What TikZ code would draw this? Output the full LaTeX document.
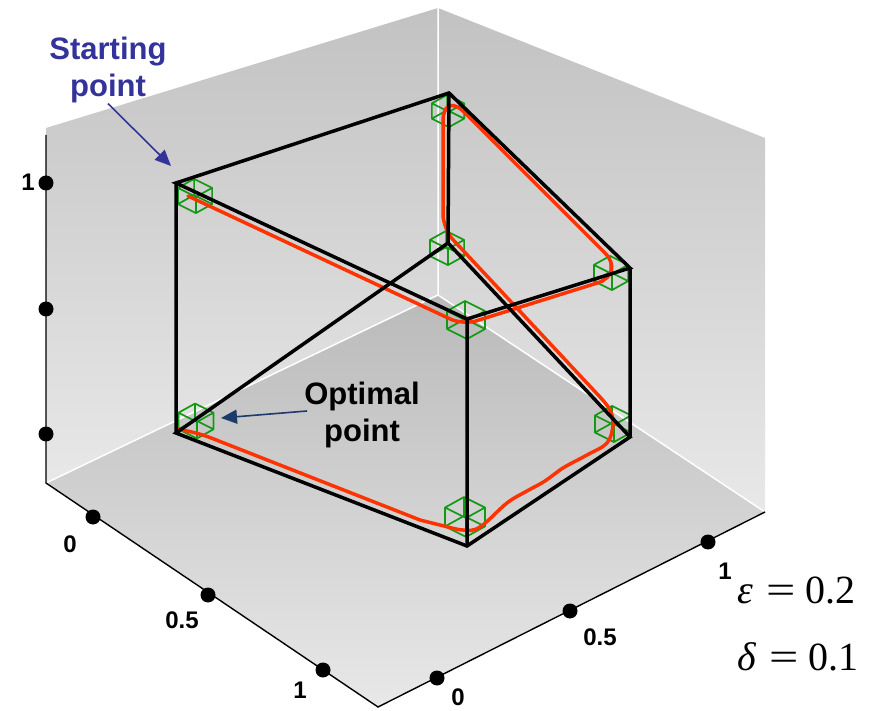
\documentclass[tikz,border=0pt]{standalone}
\usepackage{graphicx}
\usepackage{fontspec}
\setmainfont{Liberation Sans}
\newfontfamily\tmsfont{Liberation Serif}
\usetikzlibrary{arrows.meta}
\definecolor{wallT}{HTML}{C2C2C2}
\definecolor{wallB}{HTML}{E8E8E8}
\definecolor{floorT}{HTML}{BABABA}
\definecolor{floorB}{HTML}{E8E8E8}
\definecolor{redp}{HTML}{FF3300}
\definecolor{gmk}{HTML}{139913}
\definecolor{startc}{HTML}{333399}
\definecolor{optc}{HTML}{1B3B6B}
\tikzset{
 cubeedge/.style={line width=3.5pt, draw=black, line join=miter},
 redpath/.style={line width=3.5pt, draw=redp, line cap=round, line join=round},
 gmark/.style={line width=1.7pt, draw=gmk, line join=round},
 axisline/.style={line width=1.4pt, draw=black},
 wline/.style={line width=1.5pt, draw=white},
 tickdot/.style={circle, fill=black, inner sep=0pt, minimum size=15pt},
 ticklab/.style={font=\fontsize{24}{28}\selectfont\bfseries, inner sep=0pt},
 calllab/.style={font=\fontsize{31}{37}\selectfont\bfseries, inner sep=0pt, anchor=base},
 callarrow/.style={line width=1.6pt, -{Triangle[length=16pt,width=14pt]}},
 mathlab/.style={font=\tmsfont\fontsize{40}{48}\selectfont, inner sep=0pt, anchor=base west},
}
\newcommand{\wideeq}{\scalebox{1.3}[1.0]{=}}
\newcommand{\greencube}[3]{%
 \begin{scope}[shift={(#1,#2)}, scale=#3]
  \draw[gmark] (-19,-9) -- (-1,-19) -- (19,-9) -- (1,1) -- cycle
        (-19,9) -- (-1,-1) -- (19,9) -- (1,19) -- cycle
        (-19,-9) -- (-19,9) (-1,-19) -- (-1,-1) (19,-9) -- (19,9) (1,1) -- (1,19);
 \end{scope}}
\begin{document}
\begin{tikzpicture}[x=1pt,y=-1pt]
\useasboundingbox (0,0) rectangle (871,711);
% walls and floor
\shade[top color=wallT, bottom color=wallB] (46,128) -- (438,8) -- (438,295) -- (46,483) -- cycle;
\shade[top color=wallT, bottom color=wallB] (438,8) -- (765,138) -- (765,512) -- (438,295) -- cycle;
\shade[top color=floorT, bottom color=floorB] (438,295) -- (765,512) -- (378,707) -- (46,483) -- cycle;
\draw[wline] (438,8) -- (438,295) -- (46,483);
\draw[wline] (438,295) -- (765,512);
% axes
\draw[axisline] (46,135) -- (46,483) -- (378,707) -- (765,512);
\node[tickdot] (z1) at (46,183) {};
\node[tickdot] (z2) at (46,309) {};
\node[tickdot] (z3) at (46,434) {};
\node[tickdot] (l0) at (93,517) {};
\node[tickdot] (l1) at (208,595) {};
\node[tickdot] (l2) at (323,670) {};
\node[tickdot] (r0) at (437,678) {};
\node[tickdot] (r1) at (570,611) {};
\node[tickdot] (r2) at (708,542) {};
\node[ticklab] (tz1) at (28,182) {1};
\node[ticklab] (tl0) at (70,544) {0};
\node[ticklab] (tl1) at (182,620) {0.5};
\node[ticklab] (tl2) at (300,690) {1};
\node[ticklab] (tr0) at (458,697) {0};
\node[ticklab] (tr1) at (600,637) {0.5};
\node[ticklab] (tr2) at (725,571) {1};
% cube vertices
\coordinate (A) at (176,183);
\coordinate (B) at (449,93);
\coordinate (C) at (630,268);
\coordinate (D) at (467,319);
\coordinate (E) at (176,433);
\coordinate (F) at (467,546);
\coordinate (G) at (630,437);
\coordinate (H) at (448,243);
% green markers
\greencube{195}{196}{0.9}
\greencube{448}{111}{0.85}
\greencube{447}{248}{0.9}
\greencube{611}{273}{0.9}
\greencube{466}{320}{1.0}
\greencube{196}{421}{0.92}
\greencube{465}{517}{1.05}
\greencube{613}{424}{0.95}
% red path
\draw[redpath] (188,196) [rounded corners=14pt] -- (463,325) [rounded corners=30pt] -- (626,274) [rounded corners=30pt] -- (443,91) [rounded corners=15pt] -- (443,229) -- (600,397);
\draw[redpath] plot[smooth, tension=0.6] coordinates {(600,397) (610,410) (613,425) (607,443) (587,455) (563,468) (545,481) (527,491) (507,503) (480,527) (463,530) (440,525) (420,520)};
\draw[redpath, rounded corners=10pt] (420,520) -- (201,434) -- (178,429);
% cube edges
\draw[cubeedge] (A) -- (B) -- (C) -- (D) -- cycle;
\draw[cubeedge] (E) -- (H) -- (G) -- (F) -- cycle;
\draw[cubeedge] (A) -- (E) (B) -- (H) (C) -- (G) (D) -- (F);
% callouts
\node[calllab, text=startc] (st1) at (108,60) {Starting};
\node[calllab, text=startc] (st2) at (108,97) {point};
\coordinate (sp) at (171,166);
\draw[callarrow, draw=startc, fill=startc] (st2.south) -- (sp);
\node[calllab] (op1) at (362,405) {Optimal};
\node[calllab] (op2) at (362,442) {point};
\coordinate (op0) at (307,411);
\coordinate (opt) at (221,418);
\draw[callarrow, draw=optc, fill=optc] (op0) -- (opt);
% parameters
\node[mathlab] (eps) at (737,603) {\textit{ε}\hspace{0.33em}\wideeq\hspace{0.25em}0.2};
\node[mathlab] (del) at (737,670) {\textit{δ}\hspace{0.33em}\wideeq\hspace{0.25em}0.1};
\end{tikzpicture}
\end{document}
